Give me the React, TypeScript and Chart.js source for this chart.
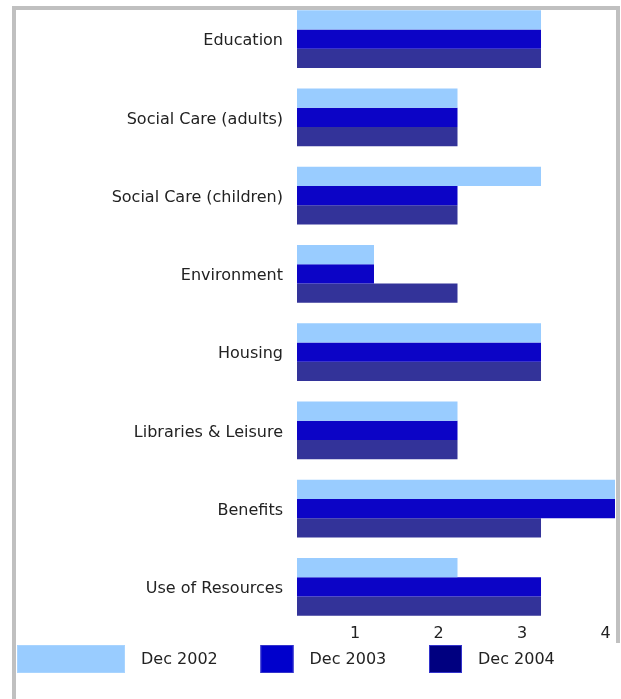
import React, { useEffect, useRef } from 'react';
import { Chart, registerables } from 'chart.js';
Chart.register(...registerables);

const categories = [
  'Education',
  'Social Care (adults)',
  'Social Care (children)',
  'Environment',
  'Housing',
  'Libraries & Leisure',
  'Benefits',
  'Use of Resources',
];
const seriesNames = ['Dec 2002', 'Dec 2003', 'Dec 2004'];
const dec2002 = [3, 2, 3, 1, 3, 2, 4, 2];
const dec2003 = [3, 2, 2, 1, 3, 2, 4, 3];
const dec2004 = [3, 2, 2, 2, 3, 2, 3, 3];
const xTickValues = [1, 2, 3, 4];
const barColors = ['#99ccff', '#0c04c6', '#333399'];
const legendColors = ['#99ccff', '#0000cc', '#000080'];

const FONT = "'DejaVu Sans', Verdana, sans-serif";

export default function App() {
  const ref = useRef<HTMLCanvasElement | null>(null);
  useEffect(() => {
    const canvas = ref.current!;
    const framePlugin = {
      id: 'frame',
      afterDraw(chart: any) {
        const ctx = chart.ctx;
        ctx.save();
        ctx.fillStyle = '#c0c0c0';
        ctx.fillRect(12, 6, 608, 4);
        ctx.fillRect(12, 6, 4, 693);
        ctx.fillRect(616, 6, 4, 637);
        // legend
        ctx.font = `16px ${FONT}`;
        ctx.textBaseline = 'middle';
        ctx.textAlign = 'left';
        seriesNames.forEach((name, i) => {
          const right = 125 + 168.5 * i;
          const left = i === 0 ? 17 : right - 33;
          ctx.fillStyle = legendColors[i];
          ctx.fillRect(left, 645, right - left, 28);
          ctx.strokeStyle = i === 0 ? '#a8d4ff' : '#3333cc';
          ctx.lineWidth = 1;
          ctx.strokeRect(left + 0.5, 645.5, right - left - 1, 27);
          ctx.fillStyle = '#222';
          ctx.fillText(name, right + 16, 660);
        });
        ctx.restore();
      },
    };
    const chart = new Chart(canvas, {
      type: 'bar',
      data: {
        labels: categories,
        datasets: [dec2002, dec2003, dec2004].map((d, i) => ({
          label: seriesNames[i],
          data: d,
          backgroundColor: barColors[i],
          borderWidth: 0,
          categoryPercentage: 0.735,
          barPercentage: 1.0,
        })),
      },
      options: {
        indexAxis: 'y',
        responsive: false,
        animation: false,
        devicePixelRatio: 1,
        layout: { padding: { top: 0, left: 0, right: 6, bottom: 0 } },
        plugins: { legend: { display: false }, tooltip: { enabled: false } },
        scales: {
          x: {
            type: 'linear',
            min: 0.078,
            max: 3.886,
            grid: { display: false, drawTicks: false },
            border: { display: false },
            ticks: {
              padding: -2,
              labelOffset: -19,
              color: '#222',
              font: { family: FONT, size: 16 },
            },
            afterBuildTicks(scale: any) {
              scale.ticks = xTickValues.map((v) => ({ value: v }));
            },
            afterFit(scale: any) {
              scale.height = 73;
              scale.paddingLeft = 0;
              scale.paddingRight = 0;
            },
          },
          y: {
            grid: { display: false, drawTicks: false },
            border: { display: false },
            ticks: {
              padding: 14,
              labelOffset: 2,
              color: '#222',
              font: { family: FONT, size: 16 },
            },
            afterFit(scale: any) {
              scale.width = 297;
              scale.paddingTop = 0;
              scale.paddingBottom = 0;
            },
          },
        },
      },
      plugins: [framePlugin],
    });
    return () => chart.destroy();
  }, []);
  return (
    <div style={{ position: 'absolute', left: 0, top: 0, width: 621, height: 699, background: '#fff' }}>
      <canvas ref={ref} width={621} height={699} style={{ display: 'block' }} />
    </div>
  );
}
